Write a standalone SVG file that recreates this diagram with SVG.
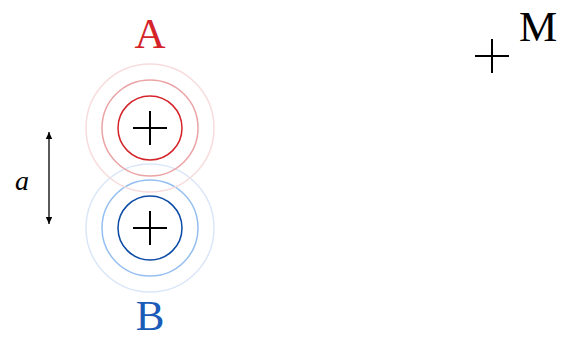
<svg xmlns="http://www.w3.org/2000/svg" width="574" height="340" viewBox="0 0 574 340">
<style>
text{font-family:'Liberation Serif','Times New Roman',serif}
.lbl{font-size:43px}
.cross{stroke:#000;stroke-width:2;fill:none}
.c{fill:none;stroke-width:1.5}
</style>
<defs>
<marker id="ah" markerWidth="8" markerHeight="8" refX="7" refY="4" orient="auto-start-reverse" markerUnits="userSpaceOnUse">
<path d="M0,0.8 L7,4 L0,7.2 Z" fill="#000"/>
</marker>
</defs>
<rect width="574" height="340" fill="#fff"/>
<g id="B">
<circle class="c" cx="150" cy="228" r="64" stroke="#dbe7f8"/>
<circle class="c" cx="150" cy="228" r="48" stroke="#94bff0"/>
<circle class="c" cx="150" cy="228" r="32" stroke="#0b4aa6"/>
<path class="cross" d="M133,228 H167 M150,211 V245"/>
<text class="lbl" x="150" y="330" text-anchor="middle" fill="#1a5bb8" font-family="Liberation Serif, serif">B</text>
</g>
<g id="A">
<circle class="c" cx="150" cy="128" r="64" stroke="#f8dcdd"/>
<circle class="c" cx="150" cy="128" r="48" stroke="#eba3a5"/>
<circle class="c" cx="150" cy="128" r="32" stroke="#d4242a"/>
<path class="cross" d="M133,128 H167 M150,111 V145"/>
<text class="lbl" x="150" y="48" text-anchor="middle" fill="#d4242a" font-family="Liberation Serif, serif">A</text>
</g>
<g id="M">
<path class="cross" d="M475,56 H509 M492,39 V73"/>
<text class="lbl" x="519" y="41" font-family="Liberation Serif, serif">M</text>
</g>
<g id="connectors">
<line x1="49" y1="132" x2="49" y2="224" stroke="#000" stroke-width="1.3" marker-start="url(#ah)" marker-end="url(#ah)"/>
<text x="15" y="190" font-family="Liberation Serif, serif" font-style="italic" font-size="28">a</text>
</g>
</svg>
